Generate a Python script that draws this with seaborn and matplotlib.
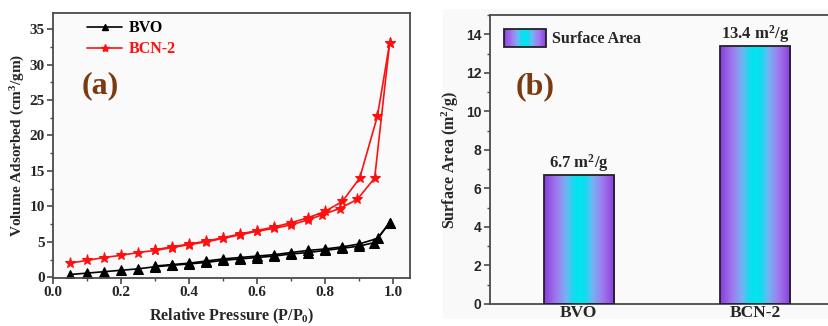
import numpy as np
import pandas as pd
import matplotlib
matplotlib.use("Agg")
import matplotlib.pyplot as plt
import seaborn as sns
from matplotlib.colors import LinearSegmentedColormap
from matplotlib.patches import Rectangle
from matplotlib.legend_handler import HandlerBase
from matplotlib.lines import Line2D
from matplotlib.ticker import MultipleLocator, FormatStrFormatter

# ---------------- data ----------------
bvo_ads_x = [0.05, 0.10, 0.15, 0.20, 0.25, 0.30, 0.35, 0.40, 0.45, 0.50, 0.55, 0.60, 0.65, 0.70, 0.75, 0.80, 0.85, 0.90, 0.945, 0.99]
bvo_ads_y = [0.4, 0.6, 0.8, 1.0, 1.2, 1.5, 1.7, 1.9, 2.1, 2.4, 2.6, 2.8, 3.0, 3.3, 3.5, 3.8, 4.1, 4.4, 4.9, 7.7]
bvo_des_x = [0.99, 0.955, 0.90, 0.85, 0.80, 0.75, 0.70, 0.65, 0.60, 0.55, 0.50, 0.45, 0.40, 0.35, 0.30]
bvo_des_y = [7.7, 5.5, 4.7, 4.3, 4.0, 3.8, 3.5, 3.2, 3.0, 2.8, 2.6, 2.3, 2.0, 1.8, 1.6]

bcn_ads_x = [0.05, 0.10, 0.15, 0.20, 0.25, 0.30, 0.35, 0.40, 0.45, 0.50, 0.55, 0.60, 0.65, 0.70, 0.75, 0.79, 0.843, 0.895, 0.946, 0.99]
bcn_ads_y = [2.0, 2.4, 2.8, 3.1, 3.5, 3.8, 4.2, 4.6, 5.0, 5.5, 6.0, 6.5, 6.9, 7.4, 8.1, 8.8, 9.7, 11.0, 14.0, 33.0]
bcn_des_x = [0.99, 0.954, 0.902, 0.851, 0.80, 0.75, 0.70, 0.65, 0.60, 0.55, 0.50, 0.45, 0.40, 0.35, 0.30]
bcn_des_y = [33.0, 22.7, 14.0, 10.7, 9.3, 8.4, 7.7, 7.1, 6.6, 6.1, 5.6, 5.1, 4.7, 4.3, 3.9]

bar_cats = ["BVO", "BCN-2"]
bar_vals = [6.7, 13.4]
bar_labels = ["6.7 m$^{2}$/g", "13.4 m$^{2}$/g"]

# ---------------- style ----------------
sns.set_theme(style="ticks")
plt.rcParams["font.family"] = ["Liberation Serif", "DejaVu Serif"]
plt.rcParams["font.weight"] = "bold"
plt.rcParams["mathtext.fontset"] = "custom"
plt.rcParams["mathtext.rm"] = "Liberation Serif:bold"
plt.rcParams["mathtext.bf"] = "Liberation Serif:bold"
plt.rcParams["mathtext.it"] = "Liberation Serif:bold"
plt.rcParams["axes.linewidth"] = 1.3

fig = plt.figure(figsize=(8.29, 3.26), dpi=100)
fig.patch.set_facecolor("white")
fig.patches.append(Rectangle((0.534, 0.0215), 0.47, 0.951, transform=fig.transFigure,
                             facecolor="#f9f9f9", edgecolor="none", zorder=-10))

ax1 = fig.add_axes([0.064, 0.147, 0.4306, 0.814])
ax2 = fig.add_axes([0.591, 0.0675, 0.42, 0.8865])

spine_col = "#4a4a4a"
brown = "#7b3a10"

# ---------------- panel (a) ----------------
ax1.set_facecolor("#fafafa")
series = [
    ("BVO", "ads", bvo_ads_x, bvo_ads_y),
    ("BVO", "des", bvo_des_x, bvo_des_y),
    ("BCN-2", "ads", bcn_ads_x, bcn_ads_y),
    ("BCN-2", "des", bcn_des_x, bcn_des_y),
]
frames = []
for s, b, xs, ys in series:
    frames.append(pd.DataFrame({"P": xs, "V": ys, "sample": s, "branch": s + b}))
df = pd.concat(frames, ignore_index=True)

colors = {"BVO": "black", "BCN-2": "#ff1010"}
markers = {"BVO": "^", "BCN-2": "*"}
msize = {"BVO": 6.5, "BCN-2": 8}
for s in ["BVO", "BCN-2"]:
    sub = df[df["sample"] == s]
    sns.lineplot(data=sub, x="P", y="V", units="branch", estimator=None, sort=False,
                 color=colors[s], marker=markers[s], markersize=msize[s],
                 markeredgecolor=colors[s], linewidth=1.2, ax=ax1, legend=False)

h1 = Line2D([], [], color="black", marker="^", markersize=5, linewidth=1.2)
h2 = Line2D([], [], color="#ff1010", marker="*", markersize=6, linewidth=1.2)
leg = ax1.legend([h1, h2], ["BVO", "BCN-2"], loc="upper left", bbox_to_anchor=(0.055, 1.025),
                 frameon=False, handlelength=2.2, handletextpad=0.4, labelspacing=0.3,
                 prop={"family": "Liberation Serif", "weight": "bold", "size": 11.5})
leg.get_texts()[0].set_color("black")
leg.get_texts()[1].set_color("#ff1010")

ax1.set_xlim(0.0, 1.05)
ax1.set_ylim(-0.1, 37.3)
ax1.xaxis.set_major_locator(MultipleLocator(0.2))
ax1.xaxis.set_minor_locator(MultipleLocator(0.1))
ax1.yaxis.set_major_locator(MultipleLocator(5))
ax1.yaxis.set_minor_locator(MultipleLocator(2.5))
ax1.xaxis.set_major_formatter(FormatStrFormatter("%.1f"))
ax1.tick_params(axis="both", which="major", direction="out", length=4, width=1.2,
                color=spine_col, labelsize=11, pad=2)
ax1.tick_params(axis="both", which="minor", direction="out", length=2.5, width=1.0, color=spine_col)
for lab in ax1.get_xticklabels() + ax1.get_yticklabels():
    lab.set_fontweight("bold")
for sp in ax1.spines.values():
    sp.set_color(spine_col)
    sp.set_visible(True)
ax1.set_xlabel("Relative Pressure (P/P$_{0}$)", fontsize=11.5, fontweight="bold", labelpad=5)
ax1.set_ylabel("Volume Adsorbed (cm$^{3}$/gm)", fontsize=11, fontweight="bold", labelpad=2)
ax1.text(0.14, 27, "(a)", color=brown, fontsize=23, fontweight="bold", ha="center", va="center")

# ---------------- panel (b) ----------------
ax2.set_facecolor("#fafafa")
sns.barplot(x=bar_cats, y=bar_vals, width=0.4, color="#00e5f0", edgecolor="#222222",
            linewidth=1.3, ax=ax2, zorder=3)

cmap = LinearSegmentedColormap.from_list("grad", [
    (0.0, "#8a3ce0"), (0.18, "#a07cef"), (0.32, "#6fb6f2"), (0.42, "#10dcef"),
    (0.5, "#00e6f0"), (0.58, "#10dcef"), (0.68, "#6fb6f2"), (0.82, "#a07cef"), (1.0, "#8a3ce0")])
grad = np.linspace(0, 1, 256).reshape(1, -1)
for p in ax2.patches:
    x0, y0 = p.get_x(), p.get_y()
    w, h = p.get_width(), p.get_height()
    im = ax2.imshow(grad, cmap=cmap, aspect="auto", extent=[x0, x0 + w, y0, y0 + h],
                    zorder=2.5, interpolation="bicubic")
    im.set_clip_path(p)
    p.set_facecolor("none")

for i, (v, t) in enumerate(zip(bar_vals, bar_labels)):
    ax2.text(i, v + 0.05, t, ha="center", va="bottom", fontsize=12, fontweight="bold",
             family="Liberation Serif")

ax2.set_xlim(-0.504, 1.47)
ax2.set_ylim(0, 15)
ax2.yaxis.set_major_locator(MultipleLocator(2))
ax2.yaxis.set_minor_locator(MultipleLocator(1))
ax2.tick_params(axis="y", which="major", direction="out", length=4, width=1.2, color=spine_col,
                labelsize=10, pad=2)
ax2.tick_params(axis="y", which="minor", direction="out", length=2.5, width=1.0, color=spine_col)
ax2.tick_params(axis="x", which="major", length=0, labelsize=12.5, pad=1)
for lab in ax2.get_yticklabels():
    lab.set_fontweight("bold")
    lab.set_family("Liberation Sans")
for lab in ax2.get_xticklabels():
    lab.set_fontweight("bold")
for sp in ax2.spines.values():
    sp.set_color(spine_col)
    sp.set_visible(True)
ax2.set_ylabel("Surface Area (m$^{2}$/g)", fontsize=11.5, fontweight="bold", labelpad=4)
ax2.set_xlabel("")
ax2.text(-0.245, 11.3, "(b)", color=brown, fontsize=23, fontweight="bold", ha="center", va="center")


class GradHandler(HandlerBase):
    def create_artists(self, legend, orig_handle, xdescent, ydescent, width, height, fontsize, trans):
        arts = []
        n = 40
        for k in range(n):
            r = Rectangle((xdescent + width * k / n, -ydescent), width / n + 0.3, height,
                          facecolor=cmap((k + 0.5) / n), edgecolor="none", transform=trans)
            arts.append(r)
        arts.append(Rectangle((xdescent, -ydescent), width, height, facecolor="none",
                              edgecolor="#222222", linewidth=1.3, transform=trans))
        return arts


proxy = Rectangle((0, 0), 1, 1)
ax2.legend([proxy], ["Surface Area"], handler_map={Rectangle: GradHandler()},
           loc="upper left", bbox_to_anchor=(0.0, 1.0), frameon=False, handlelength=2.6,
           handleheight=1.3, handletextpad=0.4,
           prop={"family": "Liberation Serif", "weight": "bold", "size": 11.5})

fig.savefig("out.png", dpi=100, facecolor=fig.get_facecolor())
